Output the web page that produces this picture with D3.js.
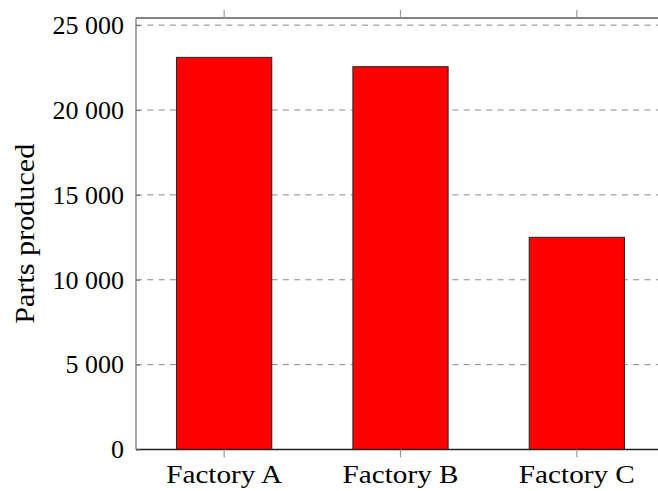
<!DOCTYPE html>
<html>
<head>
<meta charset="utf-8">
<script src="https://cdn.jsdelivr.net/npm/d3@7"></script>
<style>
  html, body { margin: 0; padding: 0; background: #fff; }
  svg { display: block; }
  text { font-family: "Liberation Serif", "Times New Roman", serif; fill: #000; }
</style>
</head>
<body>
<svg id="chart" width="658" height="491"></svg>
<script>
// Parts produced per factory
const factories = ["Factory A", "Factory B", "Factory C"];
const partsProduced = [23100, 22550, 12500];
const yTickValues = [0, 5000, 10000, 15000, 20000, 25000];
const yTickLabels = ["0", "5 000", "10 000", "15 000", "20 000", "25 000"];
const yAxisTitle = "Parts produced";

const svg = d3.select("#chart");
const W = 658, H = 491;
const plot = { left: 136, top: 18, bottom: 449.5, right: 665 };

const x = d3.scaleBand()
  .domain(factories)
  .range([plot.left, plot.right])
  .paddingInner(0.46)
  .paddingOuter(0.23);

const y = d3.scaleLinear()
  .domain([0, 25420])
  .range([plot.bottom, plot.top]);

// dashed horizontal grid
svg.append("g")
  .selectAll("line")
  .data(yTickValues)
  .join("line")
  .attr("x1", plot.left)
  .attr("x2", W)
  .attr("y1", d => y(d))
  .attr("y2", d => y(d))
  .attr("stroke", "#8a8a8a")
  .attr("stroke-width", 1)
  .attr("stroke-dasharray", "6,5.3");

// bars
svg.append("g")
  .selectAll("rect")
  .data(factories)
  .join("rect")
  .attr("x", d => x(d))
  .attr("width", x.bandwidth())
  .attr("y", (d, i) => y(partsProduced[i]))
  .attr("height", (d, i) => plot.bottom - y(partsProduced[i]))
  .attr("fill", "#ff0000")
  .attr("stroke", "#222")
  .attr("stroke-width", 1);

// frame: top and left
svg.append("line")
  .attr("x1", plot.left).attr("x2", W)
  .attr("y1", plot.top).attr("y2", plot.top)
  .attr("stroke", "#5a5a5a").attr("stroke-width", 1.3);
svg.append("line")
  .attr("x1", plot.left).attr("x2", plot.left)
  .attr("y1", plot.top).attr("y2", plot.bottom)
  .attr("stroke", "#7a7a7a").attr("stroke-width", 1.3);

// bottom axis with category labels
const xAxis = d3.axisBottom(x).tickSize(8).tickPadding(6).tickSizeOuter(0);
const gx = svg.append("g")
  .attr("transform", `translate(0,${plot.bottom})`)
  .call(xAxis);
gx.select(".domain")
  .attr("d", `M${plot.left},0H${W}`)
  .attr("stroke", "#222").attr("stroke-width", 1.3);
gx.selectAll(".tick line").attr("stroke", "#9a9a9a").attr("stroke-width", 1.2);
gx.selectAll(".tick text")
  .attr("font-family", "Liberation Serif, serif")
  .attr("font-size", 26)
  .attr("y", 33.5)
  .attr("dy", null)
  .attr("textLength", 116)
  .attr("lengthAdjust", "spacingAndGlyphs")
  .attr("fill", "#000");

// top ticks mirror the category positions
const xTop = d3.axisTop(x).tickSize(8).tickFormat("").tickSizeOuter(0);
const gt = svg.append("g")
  .attr("transform", `translate(0,${plot.top})`)
  .call(xTop);
gt.select(".domain").remove();
gt.selectAll(".tick line").attr("stroke", "#9a9a9a").attr("stroke-width", 1.2);

// left axis with value labels
const yAxis = d3.axisLeft(y)
  .tickValues(yTickValues)
  .tickFormat((d, i) => yTickLabels[i])
  .tickSize(-4)
  .tickPadding(12)
  .tickSizeOuter(0);
const gy = svg.append("g")
  .attr("transform", `translate(${plot.left},0)`)
  .call(yAxis);
gy.select(".domain").remove();
gy.selectAll(".tick line").attr("stroke", "#7a7a7a").attr("stroke-width", 1.2);
gy.selectAll(".tick text")
  .attr("font-family", "Liberation Serif, serif")
  .attr("font-size", 26)
  .attr("fill", "#000");

// y axis title
svg.append("text")
  .attr("transform", `translate(33.5,${(plot.top + plot.bottom) / 2}) rotate(-90)`)
  .attr("text-anchor", "middle")
  .attr("font-size", 27)
  .attr("textLength", 180)
  .attr("lengthAdjust", "spacingAndGlyphs")
  .text(yAxisTitle);
</script>
</body>
</html>
